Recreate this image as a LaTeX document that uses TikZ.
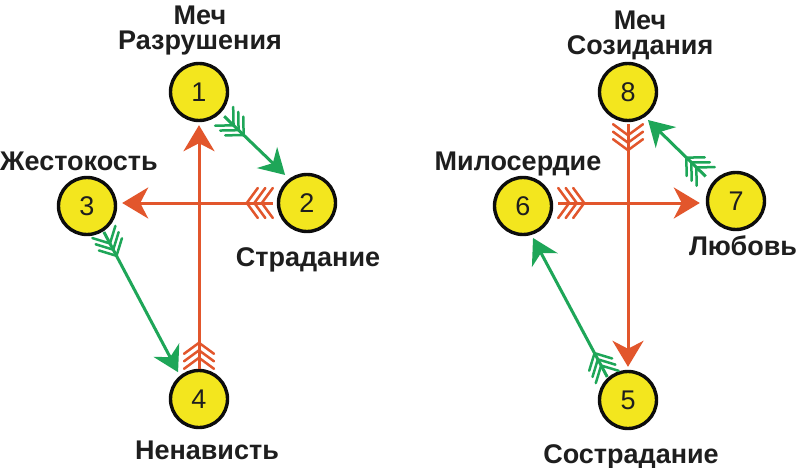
\documentclass[tikz,border=0pt]{standalone}
\usepackage{fontspec}
\setmainfont{Liberation Sans}
\usetikzlibrary{arrows.meta,decorations.markings,calc}
\definecolor{redar}{RGB}{226,86,44}
\definecolor{greenar}{RGB}{30,166,88}
\definecolor{ylw}{RGB}{243,230,30}
\definecolor{ink}{RGB}{30,30,30}
\newcommand\chevR{\draw[arrows=-,redar,line width=2.5pt,line cap=round,line join=miter] (-11pt,15pt) -- (0pt,0pt) -- (-11pt,-15pt);}
\newcommand\chevG{\draw[arrows=-,greenar,line width=2.5pt,line cap=round,line join=miter] (-13pt,13pt) -- (0pt,0pt) -- (-13pt,-13pt);}
\tikzset{
  numnode/.style={circle,draw=black!95,line width=3.4pt,fill=ylw,minimum size=57pt,inner sep=0pt,
     font=\fontsize{27}{28}\selectfont,text=ink},
  lbl/.style={inner sep=0pt,font=\fontsize{27}{25}\selectfont\bfseries,text=ink,align=center},
  redarrow/.style={draw=redar,line width=3pt,-{Stealth[length=26pt,width=31pt,inset=8pt]},
     decoration={markings,
       mark=at position 11pt with {\chevR},
       mark=at position 18.5pt with {\chevR},
       mark=at position 26pt with {\chevR}},
     postaction={decorate}},
  greenarrow/.style={draw=greenar,line width=3pt,-{Stealth[length=25pt,width=29pt,inset=8pt]},
     decoration={markings,
       mark=at position 13pt with {\chevG},
       mark=at position 20pt with {\chevG},
       mark=at position 27pt with {\chevG}},
     postaction={decorate}},
}
\begin{document}
\begin{tikzpicture}[x=1pt,y=-1pt]
\fill[white] (0,0) rectangle (800,468);
\useasboundingbox (0,0) rectangle (800,468);
% nodes
\node[numnode] (n1) at (199,92) {1};
\node[numnode] (n2) at (307,203) {2};
\node[numnode] (n3) at (87,206) {3};
\node[numnode] (n4) at (199,399) {4};
\node[numnode] (n8) at (628,92) {8};
\node[numnode] (n7) at (736,201) {7};
\node[numnode] (n6) at (523,206) {6};
\node[numnode] (n5) at (628,400) {5};
% labels
\node[lbl,anchor=north] (l1) at (200,6) {Меч\\Разрушения};
\node[lbl,anchor=base] (l2) at (308,266) {Страдание};
\node[lbl,anchor=base] (l3) at (79,170) {Жестокость};
\node[lbl,anchor=base] (l4) at (207,459) {Ненависть};
\node[lbl,anchor=north] (l8) at (640,11) {Меч\\Созидания};
\node[lbl,anchor=base] (l7) at (743,255) {Любовь};
\node[lbl,anchor=base] (l6) at (518,170) {Милосердие};
\node[lbl,anchor=base] (l5) at (631,463) {Сострадание};
% red arrows
\draw[redarrow] (n4.north) -- ($(n1.south)+(0,3)$);
\draw[redarrow] ($(n2.west)+(-4,0)$) -- ($(n2.west -| n3.east)+(5,0)$);
\draw[redarrow] ($(n8.south)+(0,2)$) -- ($(n5.north)+(0,-3)$);
\draw[redarrow] ($(n6.east)+(5,-3)$) -- ($(n6.east -| n7.west)+(-6,-3)$);
% green arrows
\draw[greenarrow] ($(n1)+(44:35)$) -- ($(n2)+(232:35.6)$);
\draw[greenarrow] ($(n3)+(57:31)$) -- ($(n4)+(232:34)$);
\draw[greenarrow] ($(n7)+(219:39)$) -- ($(n8)+(54.5:34.4)$);
\draw[greenarrow] ($(n5)+(228:31)$) -- ($(n6)+(72.6:33.5)$);
\end{tikzpicture}
\end{document}
